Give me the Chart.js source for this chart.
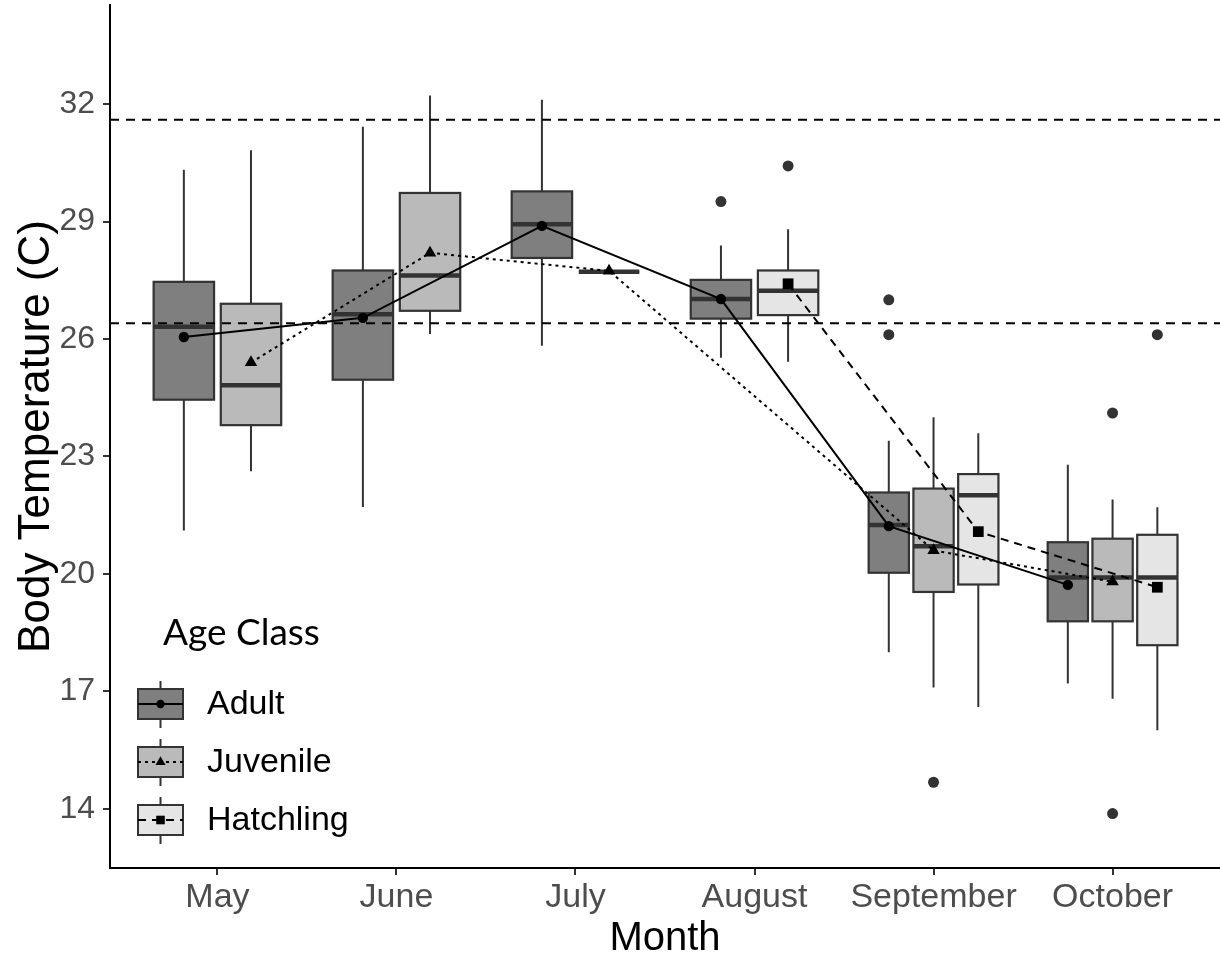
<!DOCTYPE html>
<html>
<head>
<meta charset="utf-8">
<script src="https://cdn.jsdelivr.net/npm/chart.js@4"></script>
<style>
  html, body { margin: 0; padding: 0; background: #fff; overflow: hidden; }
  #wrap { width: 1220px; height: 959px; }
  canvas { display: block; }
</style>
</head>
<body>
<div id="wrap"><canvas id="tempChart" width="1220" height="959"></canvas></div>
<script>
const months = ['May', 'June', 'July', 'August', 'September', 'October'];
const ageClasses = ['Adult', 'Juvenile', 'Hatchling'];
const yTicks = [14, 17, 20, 23, 26, 29, 32];
const refLines = [31.6, 26.4];

// box stats per month (null = no box that month)
const adultMin = [21.11, 21.71, 25.83, 25.52, 18.0, 17.2];
const adultQ1 = [24.45, 24.96, 28.07, 26.52, 20.03, 18.79];
const adultMed = [26.31, 26.63, 28.93, 27.02, 21.25, 19.91];
const adultQ3 = [27.46, 27.75, 29.77, 27.51, 22.08, 20.81];
const adultMax = [30.32, 31.42, 32.11, 28.39, 23.4, 22.79];
const adultOut = [[], [], [], [29.51], [27.0, 26.11], []];
const adultMean = [26.05, 26.54, 28.89, 27.02, 21.22, 19.72];

const juvMin = [22.62, 26.13, 27.72, null, 17.1, 16.81];
const juvQ1 = [23.8, 26.72, 27.72, null, 19.54, 18.79];
const juvMed = [24.82, 27.62, 27.72, null, 20.71, 19.91];
const juvQ3 = [26.9, 29.73, 27.72, null, 22.18, 20.9];
const juvMax = [30.82, 32.22, 27.72, null, 24.0, 21.9];
const juvOut = [[], [], [], [], [14.68], [24.11, 13.88]];
const juvMean = [25.4, 28.2, 27.74, null, 20.6, 19.8];

const hatchMin = [null, null, null, 25.42, 16.6, 16.01];
const hatchQ1 = [null, null, null, 26.61, 19.73, 18.18];
const hatchMed = [null, null, null, 27.23, 22.01, 19.91];
const hatchQ3 = [null, null, null, 27.75, 22.55, 21.0];
const hatchMax = [null, null, null, 28.8, 23.59, 21.7];
const hatchOut = [[], [], [], [30.42], [], [26.11]];
const hatchMean = [null, null, null, 27.41, 21.08, 19.66];

const FONT = "'Liberation Sans', Arial, sans-serif";
const X_MIN = -0.6, X_MAX = 5.6;
const Y_MIN = 12.49, Y_MAX = 34.53;
const DODGE = 0.75;

const groups = [
  { name: ageClasses[0], min: adultMin, q1: adultQ1, med: adultMed, q3: adultQ3, max: adultMax, out: adultOut, mean: adultMean,
    fill: '#7f7f7f', dash: [], point: 'circle', radius: 5.2 },
  { name: ageClasses[1], min: juvMin, q1: juvQ1, med: juvMed, q3: juvQ3, max: juvMax, out: juvOut, mean: juvMean,
    fill: '#bababa', dash: [3, 4], point: 'triangle', radius: 7.2 },
  { name: ageClasses[2], min: hatchMin, q1: hatchQ1, med: hatchMed, q3: hatchQ3, max: hatchMax, out: hatchOut, mean: hatchMean,
    fill: '#e5e5e5', dash: [8, 6], point: 'rect', radius: 7.6 },
];

// dodge position of a group's box inside a month, like ggplot's position_dodge2
function present(i) {
  return groups.map((g, k) => k).filter(k => groups[k].med[i] != null);
}
function slotX(i, k) {
  const p = present(i);
  const slot = DODGE / p.length;
  return i - DODGE / 2 + slot * (p.indexOf(k) + 0.5);
}
function boxWidth(i) {
  return (DODGE / present(i).length) * 0.9;
}

function drawMarker(ctx, style, x, y, r) {
  ctx.beginPath();
  if (style === 'circle') {
    ctx.arc(x, y, r, 0, Math.PI * 2);
  } else if (style === 'triangle') {
    const s = r * Math.sqrt(3);
    ctx.moveTo(x, y - r);
    ctx.lineTo(x + s / 2, y + r / 2);
    ctx.lineTo(x - s / 2, y + r / 2);
    ctx.closePath();
  } else {
    const h = r * Math.SQRT1_2;
    ctx.rect(x - h, y - h, 2 * h, 2 * h);
  }
  ctx.fill();
}

const boxPlugin = {
  id: 'boxes',
  beforeDatasetsDraw(chart) {
    const { ctx, scales: { x, y } } = chart;
    ctx.save();
    groups.forEach((g, k) => {
      months.forEach((m, i) => {
        if (g.med[i] == null) return;
        const cx = x.getPixelForValue(slotX(i, k));
        const hw = (x.getPixelForValue(boxWidth(i)) - x.getPixelForValue(0)) / 2;
        const yMin = y.getPixelForValue(g.min[i]);
        const yQ1 = y.getPixelForValue(g.q1[i]);
        const yMed = y.getPixelForValue(g.med[i]);
        const yQ3 = y.getPixelForValue(g.q3[i]);
        const yMax = y.getPixelForValue(g.max[i]);

        ctx.strokeStyle = '#333333';
        ctx.lineWidth = 2;
        ctx.beginPath();
        ctx.moveTo(cx, yMax); ctx.lineTo(cx, yQ3);
        ctx.moveTo(cx, yQ1); ctx.lineTo(cx, yMin);
        ctx.stroke();

        ctx.fillStyle = g.fill;
        ctx.fillRect(cx - hw, yQ3, hw * 2, yQ1 - yQ3);
        ctx.lineWidth = 2.2;
        ctx.strokeRect(cx - hw, yQ3, hw * 2, yQ1 - yQ3);

        ctx.lineWidth = 4.5;
        ctx.beginPath();
        ctx.moveTo(cx - hw, yMed); ctx.lineTo(cx + hw, yMed);
        ctx.stroke();

        ctx.fillStyle = '#333333';
        g.out[i].forEach(v => {
          ctx.beginPath();
          ctx.arc(cx, y.getPixelForValue(v), 5.5, 0, Math.PI * 2);
          ctx.fill();
        });
      });
    });
    ctx.restore();
  },
  afterDraw(chart) {
    const { ctx, chartArea } = chart;
    const left = chartArea.left, bottom = chartArea.bottom;
    ctx.save();
    ctx.fillStyle = '#000';
    ctx.font = "37px Lato, 'Open Sans', sans-serif";
    ctx.textBaseline = 'alphabetic';
    ctx.fillText('Age Class', left + 53, bottom - 223);

    groups.forEach((g, k) => {
      const cy = bottom - 164 + k * 58;
      const bx = left + 28, bw = 45, bh = 30;
      const cx = bx + bw / 2;
      ctx.strokeStyle = '#333333';
      ctx.lineWidth = 2;
      ctx.setLineDash([]);
      ctx.beginPath();
      ctx.moveTo(cx, cy - 23); ctx.lineTo(cx, cy - bh / 2);
      ctx.moveTo(cx, cy + bh / 2); ctx.lineTo(cx, cy + 24);
      ctx.stroke();
      ctx.fillStyle = g.fill;
      ctx.fillRect(bx, cy - bh / 2, bw, bh);
      ctx.strokeRect(bx, cy - bh / 2, bw, bh);
      ctx.strokeStyle = '#000';
      ctx.lineWidth = 2;
      ctx.setLineDash(g.dash);
      ctx.beginPath();
      ctx.moveTo(bx, cy); ctx.lineTo(bx + bw, cy);
      ctx.stroke();
      ctx.setLineDash([]);
      ctx.fillStyle = '#000';
      drawMarker(ctx, g.point, cx, cy, g.radius * 0.8);

      ctx.font = '34px ' + FONT;
      ctx.textBaseline = 'middle';
      ctx.fillText(g.name, left + 97, cy + 1);
    });
    ctx.restore();
  },
};

const meanSets = groups.map(g => ({
  label: g.name,
  data: months.map((m, i) => (g.mean[i] == null ? null : { x: slotX(i, groups.indexOf(g)), y: g.mean[i] }))
    .filter(p => p !== null),
  borderColor: '#000',
  backgroundColor: '#000',
  borderWidth: 2,
  borderDash: g.dash,
  pointStyle: g.point,
  pointRadius: g.radius,
  pointBorderWidth: 0,
  tension: 0,
  order: 0,
}));

const refSets = refLines.map(v => ({
  label: 'ref ' + v,
  data: [{ x: X_MIN, y: v }, { x: X_MAX, y: v }],
  borderColor: '#000',
  borderWidth: 2,
  borderDash: [9, 7],
  pointRadius: 0,
  order: 1,
}));

new Chart(document.getElementById('tempChart'), {
  type: 'line',
  data: { datasets: [...meanSets, ...refSets] },
  options: {
    responsive: false,
    devicePixelRatio: 1,
    animation: false,
    layout: { autoPadding: false, padding: { top: 5, right: 0, left: 0, bottom: 0 } },
    plugins: { legend: { display: false }, tooltip: { enabled: false } },
    scales: {
      x: {
        type: 'linear',
        min: X_MIN,
        max: X_MAX,
        afterBuildTicks: s => { s.ticks = months.map((m, i) => ({ value: i })); },
        afterFit: s => { s.height = 91; s.paddingLeft = 0; s.paddingRight = 0; },
        ticks: {
          callback: v => months[v],
          color: '#4d4d4d',
          font: { family: FONT, size: 34 },
          padding: 2,
          maxRotation: 0,
        },
        grid: { drawOnChartArea: false, drawTicks: true, tickLength: 7, color: '#333333', lineWidth: 2 },
        border: { display: true, color: '#000', width: 2 },
        title: { display: true, text: 'Month', color: '#000', font: { family: FONT, size: 40 }, padding: { top: 0, bottom: -4 } },
      },
      y: {
        type: 'linear',
        min: Y_MIN,
        max: Y_MAX,
        afterBuildTicks: s => { s.ticks = yTicks.map(v => ({ value: v })); },
        afterFit: s => { s.width = 110; s.paddingTop = 0; s.paddingBottom = 0; },
        ticks: { color: '#4d4d4d', font: { family: FONT, size: 32 }, padding: 8 },
        grid: { drawOnChartArea: false, drawTicks: true, tickLength: 7, color: '#333333', lineWidth: 2 },
        border: { display: true, color: '#000', width: 2 },
        title: { display: true, text: 'Body Temperature (C)', color: '#000', font: { family: FONT, size: 44 }, padding: { top: 10, bottom: 0 } },
      },
    },
  },
  plugins: [boxPlugin],
});
</script>
</body>
</html>
